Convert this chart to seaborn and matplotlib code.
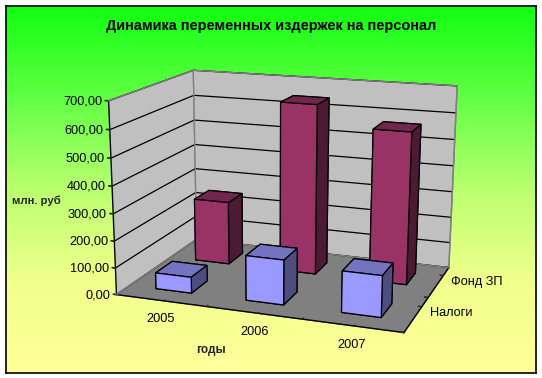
import numpy as np
import matplotlib
matplotlib.use("Agg")
import matplotlib.pyplot as plt
from matplotlib.colors import LinearSegmentedColormap
import seaborn as sns
from mpl_toolkits.mplot3d import Axes3D

years = ["2005", "2006", "2007"]
series = ["Налоги", "Фонд ЗП"]
nalogi = [60, 165, 150]
fond = [245, 645, 570]
z_ticks = [0, 100, 200, 300, 400, 500, 600, 700]
z_labels = ["0,00", "100,00", "200,00", "300,00", "400,00", "500,00", "600,00", "700,00"]

W, H = 542, 378
sns.set_theme(style="white", font="Liberation Sans")
plt.rcParams["font.family"] = ["Liberation Sans", "DejaVu Sans"]
plum, blue = sns.color_palette(["#993366", "#9999FF"])

fig = plt.figure(figsize=(W / 100, H / 100), dpi=100, facecolor="white")

# gradient chart-area background with black frame
L, R, T, B = 5.5, 535.5, 5.5, 372.5
bg = fig.add_axes([L / W, 1 - B / H, (R - L) / W, (B - T) / H], zorder=0)
cmap = LinearSegmentedColormap.from_list(
    "g", [(0, "#10FF10"), (0.26, "#64FF46"), (0.5, "#B9FF6E"), (0.75, "#F0FF8C"), (1, "#FFFF99")])
bg.imshow(np.linspace(0, 1, 256)[:, None], aspect="auto", cmap=cmap, vmin=0, vmax=1)
bg.set_xticks([]); bg.set_yticks([])
for s in bg.spines.values():
    s.set_color("black"); s.set_linewidth(1.2); s.set_visible(True)

# square 3D axes spanning the figure width
ax = fig.add_axes([0, (H - W) / 2 / H, 1, W / H], projection="3d", zorder=1)
ax.set_facecolor("none")
ax.patch.set_visible(False)
ax.set_xlim(0, 3); ax.set_ylim(0, 2); ax.set_zlim(0, 700)

# camera fitted from the chart box's corners as seen in the picture
world = [(0,0,0),(3,0,0),(0,2,0),(3,2,0),(0,0,1),(0,2,1),(3,2,1)]
pix = [(117,294),(404,333),(196,240),(449,267),(108,101),(194,70),(457,86)]
A, b = [], []
inv = ax.transData.inverted()
for (X, Y, Z), (px, py) in zip(world, pix):
    u, v = inv.transform((px, H - py))
    A.append([X, Y, Z, 1, 0, 0, 0, 0, -u*X, -u*Y, -u*Z]); b.append(u)
    A.append([0, 0, 0, 0, X, Y, Z, 1, -v*X, -v*Y, -v*Z]); b.append(v)
p = np.linalg.lstsq(np.array(A), np.array(b), rcond=None)[0]
P = np.array([p[0:4], p[4:8], [0, 0, 0, -1], [p[8], p[9], p[10], 1.0]])
P[:, 2] /= 700.0
ax.get_proj = lambda: P
ax.M = P
ax.computed_zorder = False
ax.azim = 90  # makes the z ticks point along x

# grey outline of the walls, over the outermost gridlines
zmax = z_ticks[-1]
ax.plot([0, 0, 3, 3, 0, 0], [0, 2, 2, 2, 2, 0], [zmax, zmax, zmax, 0, 0, 0],
        color="#808080", linewidth=1.0, zorder=5)
ax.plot([0, 0], [2, 2], [0, zmax], color="#808080", linewidth=1.0, zorder=5)

def shades(c):
    c = np.array(c)
    # bar3d face order: bottom, top, front, back, left, right
    return [tuple(c*0.5), tuple(c*0.75), tuple(c), tuple(c), tuple(c*0.5), tuple(c*0.5)]

width = 0.4
zo = 10
for row, (vals, col) in enumerate([(fond, plum), (nalogi, blue)]):
    y0 = (1 - row) + 0.5 - width / 2
    for i, v in enumerate(vals):
        zo += 1
        ax.bar3d(i + 0.5 - width / 2, y0, 0, width, width, v, color=shades(col),
                 edgecolor="black", linewidth=0.9, shade=False, zorder=zo)
ax.set_xlim(0, 3); ax.set_ylim(0, 2); ax.set_zlim(0, 700)

# axes
for axis, c in [(ax.xaxis, "#C0C0C0"), (ax.yaxis, "#C0C0C0"), (ax.zaxis, "#808080")]:
    axis.set_pane_color(c)
    axis.pane.set_edgecolor("#808080")
    axis.pane.set_linewidth(1.0)
    axis.line.set_color("black")
    axis.line.set_linewidth(1.0)
ax.grid(True)
ax.xaxis._axinfo["grid"].update(color=(0, 0, 0, 0))
ax.yaxis._axinfo["grid"].update(color=(0, 0, 0, 0))
ax.zaxis._axinfo["grid"].update(color="black", linewidth=0.9, linestyle="-")
for axis in (ax.xaxis, ax.yaxis, ax.zaxis):
    axis._axinfo["tick"].update(inward_factor=0, outward_factor=0.15)

ax.set_xticks([0, 1, 2, 3]); ax.set_xticklabels(["", "", "", ""])
ax.set_xticks([0.54, 1.54, 2.52], minor=True); ax.set_xticklabels(years, minor=True)
ax.set_yticks([0, 1, 2]); ax.set_yticklabels(["", "", ""])
ax.set_yticks([0.72, 1.72], minor=True); ax.set_yticklabels(series, minor=True)
ax.set_zticks(z_ticks); ax.set_zticklabels(z_labels)
ax.zaxis.set_ticks_position("lower")
ax.tick_params(axis="x", which="minor", bottom=False, labelsize=9.2, labelcolor="black", pad=2)
ax.tick_params(axis="y", which="minor", left=False, labelsize=9.2, labelcolor="black", pad=-2)
ax.tick_params(axis="z", labelsize=9.2, labelcolor="black", pad=-4.5)
for t in ax.get_zticklabels():
    t.set_ha("right"); t.set_va("center")
for t in ax.get_yticklabels(minor=True):
    t.set_ha("left"); t.set_va("center")

fig.text(271 / W, 1 - 26 / H, "Динамика переменных издержек на персонал", ha="center", va="center",
         fontsize=10.45, fontweight="bold", color="black", zorder=5)
fig.text(36 / W, 1 - 201 / H, "млн. руб", ha="center", va="center", fontsize=8.2, fontweight="bold", zorder=5)
fig.text(211 / W, 1 - 350 / H, "годы", ha="center", va="center", fontsize=8.5, fontweight="bold", zorder=5)

fig.savefig("out.png", dpi=100, facecolor="white")
